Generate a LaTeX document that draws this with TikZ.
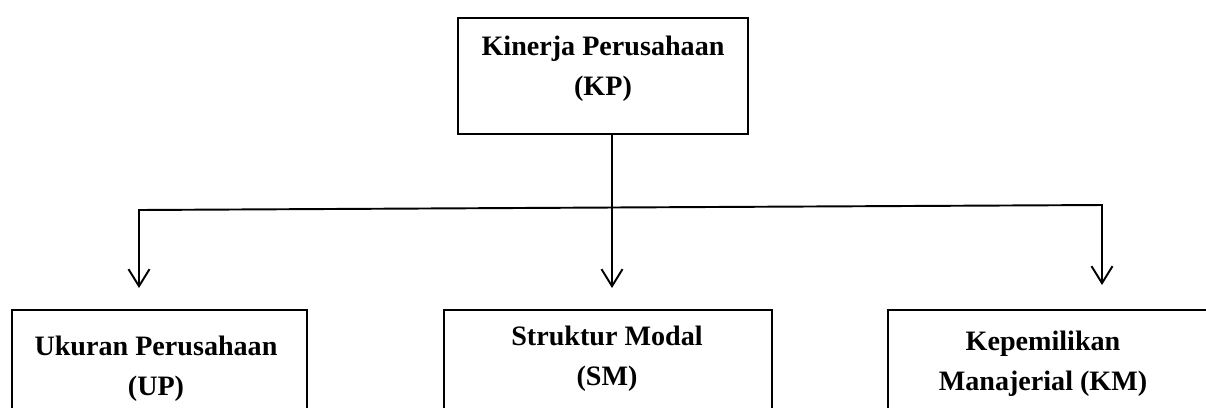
\documentclass[tikz,border=0pt]{standalone}
\usepackage{fontspec}
\setmainfont{Liberation Serif}
\usetikzlibrary{arrows.meta,positioning}

\begin{document}
\begin{tikzpicture}[x=0.02cm,y=-0.02cm,>={Straight Barb[length=3.4mm,width=4.2mm]},
  box/.style={draw,line width=1.6pt,inner sep=0pt},
  lbl/.style={align=center,anchor=north,inner sep=0pt,font=\bfseries\fontsize{16}{22.8}\selectfont},
  conn/.style={line width=1.1pt}]
\useasboundingbox (0,0) rectangle (1206,407);
% kotak atas
\node[box,minimum width=5.8cm,minimum height=2.32cm] (kp) at (603,76) {};
\node[lbl] (kpt) at (603,36) {Kinerja Perusahaan\\(KP)};
% kotak bawah
\node[box,minimum width=5.9cm,minimum height=2.32cm] (up) at (159.5,368) {};
\node[lbl] (upt) at (156,336) {Ukuran Perusahaan\\(UP)};
\node[box,minimum width=6.56cm,minimum height=2.32cm] (sm) at (608,368) {};
\node[lbl] (smt) at (607,326) {Struktur Modal\\(SM)};
\node[box,minimum width=6.56cm,minimum height=2.32cm] (km) at (1052,368) {};
\node[lbl] (kmt) at (1043,331) {Kepemilikan\\Manajerial (KM)};
% garis penghubung
\coordinate (j) at (612,207.5);
\coordinate (l) at (139,210); \coordinate (r) at (1102,205);
\coordinate (tl) at (139,288); \coordinate (tm) at (612,288); \coordinate (tr) at (1102,285);
\draw[conn] (kp.south -| j) -- (j);
\draw[conn,->] (j) -- (l) -- (tl);
\draw[conn,->] (j) -- (r) -- (tr);
\draw[conn,->] (j) -- (tm);
\end{tikzpicture}
\end{document}
